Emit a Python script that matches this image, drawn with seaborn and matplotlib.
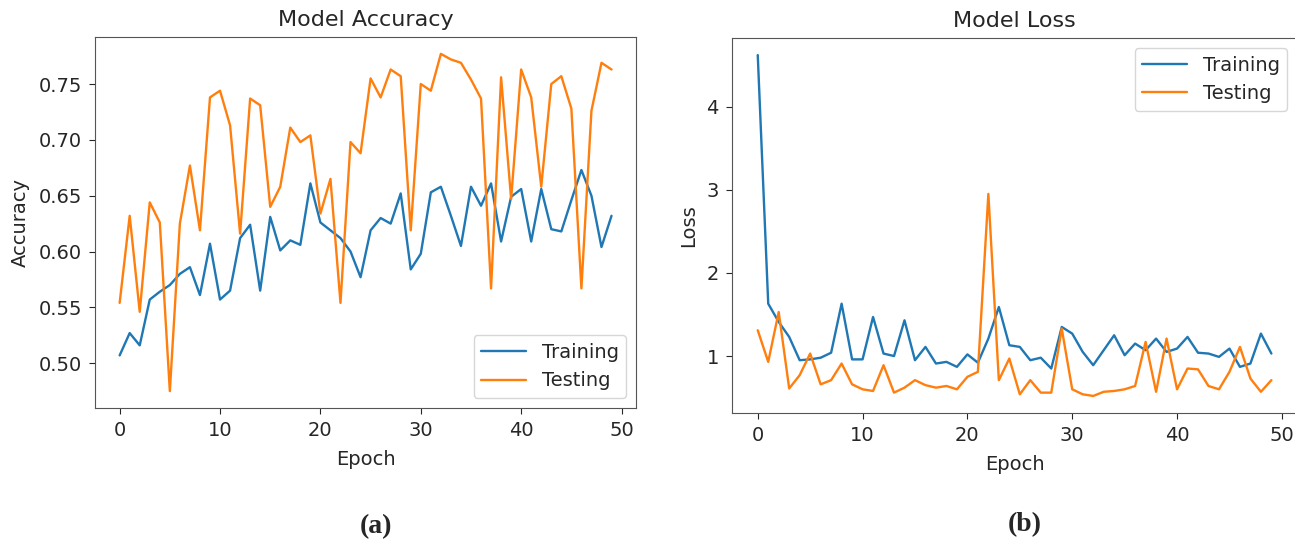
import matplotlib
matplotlib.use("Agg")
import matplotlib.pyplot as plt
import seaborn as sns

epochs = list(range(50))

train_acc = [0.507, 0.527, 0.516, 0.557, 0.564, 0.570, 0.580, 0.586, 0.561, 0.607,
             0.557, 0.565, 0.612, 0.624, 0.565, 0.631, 0.601, 0.610, 0.606, 0.661,
             0.626, 0.619, 0.612, 0.600, 0.577, 0.619, 0.630, 0.625, 0.652, 0.584,
             0.598, 0.653, 0.658, 0.632, 0.605, 0.658, 0.641, 0.661, 0.609, 0.649,
             0.656, 0.609, 0.656, 0.620, 0.618, 0.646, 0.673, 0.650, 0.604, 0.632]
test_acc = [0.554, 0.632, 0.546, 0.644, 0.626, 0.475, 0.625, 0.677, 0.619, 0.738,
            0.744, 0.713, 0.616, 0.737, 0.731, 0.640, 0.658, 0.711, 0.698, 0.704,
            0.634, 0.665, 0.554, 0.698, 0.688, 0.755, 0.738, 0.763, 0.757, 0.619,
            0.750, 0.744, 0.777, 0.772, 0.769, 0.754, 0.737, 0.567, 0.756, 0.647,
            0.763, 0.738, 0.658, 0.750, 0.757, 0.728, 0.567, 0.726, 0.769, 0.763]

train_loss = [4.62, 1.63, 1.41, 1.23, 0.95, 0.96, 0.98, 1.04, 1.63, 0.96,
              0.96, 1.47, 1.03, 1.00, 1.43, 0.95, 1.11, 0.91, 0.93, 0.87,
              1.02, 0.92, 1.21, 1.59, 1.13, 1.11, 0.95, 0.98, 0.85, 1.35,
              1.27, 1.05, 0.89, 1.07, 1.25, 1.01, 1.15, 1.07, 1.21, 1.05,
              1.09, 1.23, 1.04, 1.03, 0.99, 1.09, 0.87, 0.91, 1.27, 1.03]
test_loss = [1.31, 0.93, 1.53, 0.61, 0.77, 1.03, 0.66, 0.71, 0.91, 0.66,
             0.60, 0.58, 0.89, 0.56, 0.62, 0.71, 0.65, 0.62, 0.64, 0.60,
             0.75, 0.81, 2.95, 0.71, 0.97, 0.54, 0.71, 0.56, 0.56, 1.33,
             0.60, 0.54, 0.52, 0.57, 0.58, 0.60, 0.64, 1.17, 0.57, 1.21,
             0.60, 0.85, 0.84, 0.64, 0.60, 0.81, 1.11, 0.73, 0.57, 0.71]

sns.set_style("ticks")
plt.rcParams['font.family'] = ['DejaVu Sans']

fig = plt.figure(figsize=(12.95, 5.44), dpi=100)
ax1 = fig.add_axes([0.0734, 0.25, 0.4178, 0.682])
ax2 = fig.add_axes([0.5653, 0.2408, 0.4363, 0.6893])

blue, orange = "#1f77b4", "#ff7f0e"


def draw(ax, train, test, title, ylabel, legend_loc):
    sns.lineplot(x=epochs, y=train, ax=ax, color=blue, linewidth=1.7, label="Training")
    sns.lineplot(x=epochs, y=test, ax=ax, color=orange, linewidth=1.7, label="Testing")
    ax.set_title(title, fontsize=16, pad=8)
    ax.set_xlabel("Epoch", fontsize=14, labelpad=7)
    ax.set_ylabel(ylabel, fontsize=14, labelpad=6)
    ax.set_xticks([0, 10, 20, 30, 40, 50])
    ax.tick_params(labelsize=14, length=4.5, pad=5)
    ax.legend(loc=legend_loc, fontsize=14, handlelength=2.3)
    for s in ax.spines.values():
        s.set_color("#555555")


draw(ax1, train_acc, test_acc, "Model Accuracy", "Accuracy", "lower right")
draw(ax2, train_loss, test_loss, "Model Loss", "Loss", "upper right")
ax1.set_yticks([0.50, 0.55, 0.60, 0.65, 0.70, 0.75])
ax1.set_yticklabels(["0.50", "0.55", "0.60", "0.65", "0.70", "0.75"])
ax2.set_yticks([1, 2, 3, 4])

fig.text(0.29, 0.032, "(a)", fontsize=20, fontweight="bold",
         family="Liberation Serif", ha="center", va="center")
fig.text(0.7915, 0.035, "(b)", fontsize=20, fontweight="bold",
         family="Liberation Serif", ha="center", va="center")

fig.savefig("out.png", dpi=100)
